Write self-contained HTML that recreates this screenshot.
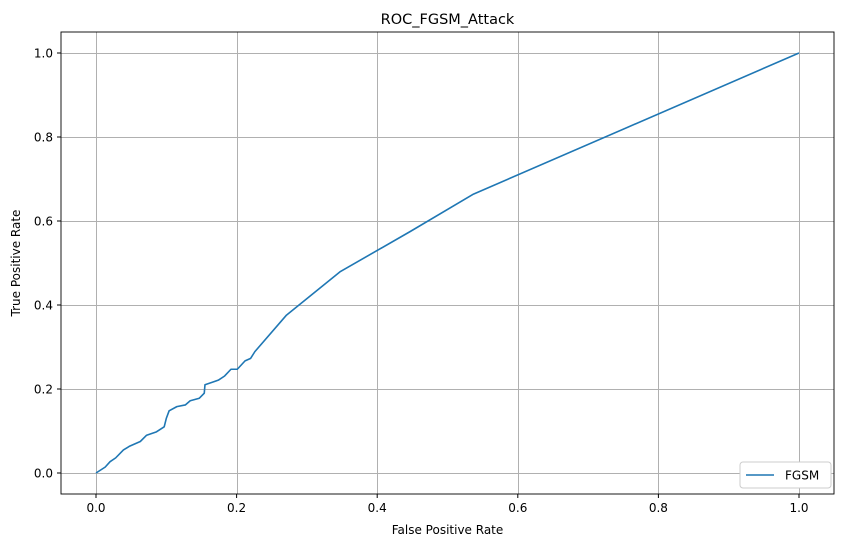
<!DOCTYPE html>
<html><head><meta charset="utf-8"><style>
body{margin:0;background:#fff;font-family:"Liberation Sans",sans-serif}
svg text{font-family:"DejaVu Sans","Liberation Sans",sans-serif;fill:#000}
</style></head><body>
<svg width="846" height="547">
<rect width="846" height="547" fill="#fff"/>
<g id="grid" shape-rendering="crispEdges"></g>
<g id="ticks"></g>
<path id="curve" fill="none" stroke="#1f77b4" stroke-width="1.6" stroke-linejoin="round"/>
<rect x="61" y="32" width="773" height="462" fill="none" stroke="#000" stroke-width="0.9"/>
<text x="447.5" y="24" font-size="14.5" text-anchor="middle">ROC_FGSM_Attack</text>
<text x="447.5" y="534" font-size="12" text-anchor="middle">False Positive Rate</text>
<text x="20" y="263" font-size="12" text-anchor="middle" transform="rotate(-90 20 263)">True Positive Rate</text>
<g>
<rect x="740" y="462" width="91" height="26" rx="3" fill="#fff" stroke="#ccc"/>
<line x1="746" y1="475" x2="774" y2="475" stroke="#1f77b4" stroke-width="1.6"/>
<text x="785" y="479.5" font-size="12">FGSM</text>
</g>
</svg>
<script>
const fpr=[0,0.013,0.02,0.028,0.039,0.048,0.063,0.072,0.086,0.097,0.1,0.104,0.115,0.127,0.134,0.147,0.154,0.155,0.174,0.183,0.192,0.201,0.212,0.22,0.226,0.271,0.347,0.447,0.537,1];
const tpr=[0,0.014,0.027,0.036,0.055,0.064,0.075,0.09,0.098,0.11,0.13,0.148,0.158,0.162,0.172,0.178,0.19,0.21,0.221,0.231,0.247,0.247,0.267,0.273,0.289,0.376,0.479,0.575,0.664,1];
const ticks=[0,0.2,0.4,0.6,0.8,1.0];
const tickLabels=["0.0","0.2","0.4","0.6","0.8","1.0"];
const X=v=>96+v*703, Y=v=>473-v*420;
const ns="http://www.w3.org/2000/svg";
const g=document.getElementById('grid'), t=document.getElementById('ticks');
function mk(tag,attrs,parent){const e=document.createElementNS(ns,tag);for(const k in attrs)e.setAttribute(k,attrs[k]);parent.appendChild(e);return e;}
ticks.forEach((v,i)=>{
 const vl=mk('line',{x1:Math.round(X(v))+0.5,x2:Math.round(X(v))+0.5,y1:32,y2:494,stroke:'#b0b0b0','stroke-width':1},g);
 
 
 const hl=mk('line',{x1:61,x2:834,y1:Math.round(Y(v))+0.5,y2:Math.round(Y(v))+0.5,stroke:'#b0b0b0','stroke-width':1},g);
 
 
 mk('line',{x1:X(v),x2:X(v),y1:494,y2:498,stroke:'#000'},t);
 mk('line',{x1:57,x2:61,y1:Y(v),y2:Y(v),stroke:'#000'},t);
 const xt=mk('text',{x:X(v),y:512,'font-size':12,'text-anchor':'middle'},t);xt.textContent=tickLabels[i];
 
 
 const yt=mk('text',{x:53,y:Y(v)+4.5,'font-size':12,'text-anchor':'end'},t);yt.textContent=tickLabels[i];
 
 
});
document.getElementById('curve').setAttribute('d',fpr.map((v,i)=>(i?'L':'M')+X(v)+' '+Y(tpr[i])).join(' '));
</script>
</body></html>
